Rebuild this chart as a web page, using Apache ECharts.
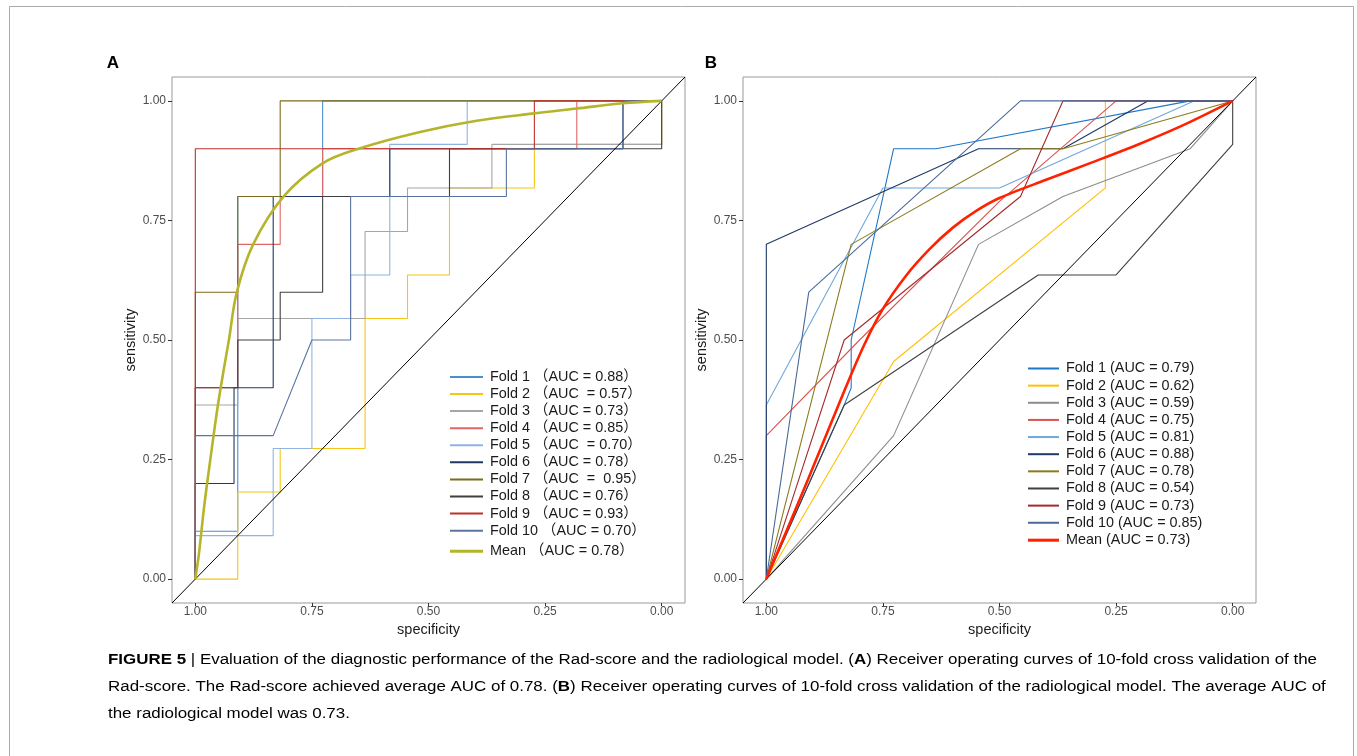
<!DOCTYPE html>
<html>
<head>
<meta charset="utf-8">
<script src="https://cdn.jsdelivr.net/npm/echarts@6/dist/echarts.min.js"></script>
<style>
  html, body { margin: 0; padding: 0; background: #fff; }
  #chart { width: 1357px; height: 756px; }
</style>
</head>
<body>
<div id="chart"></div>
<script>
// all curves are [specificity, sensitivity]
const ticks = [0, 0.25, 0.5, 0.75, 1];

const namesA = [
  'Fold 1 （AUC = 0.88）', 'Fold 2 （AUC  = 0.57）', 'Fold 3 （AUC = 0.73）',
  'Fold 4 （AUC = 0.85）', 'Fold 5 （AUC  = 0.70）', 'Fold 6 （AUC = 0.78）',
  'Fold 7 （AUC  =  0.95）', 'Fold 8 （AUC = 0.76）', 'Fold 9 （AUC = 0.93）',
  'Fold 10 （AUC = 0.70）', 'Mean （AUC = 0.78）'
];
const namesB = [
  'Fold 1 (AUC = 0.79)', 'Fold 2 (AUC = 0.62)', 'Fold 3 (AUC = 0.59)',
  'Fold 4 (AUC = 0.75)', 'Fold 5 (AUC = 0.81)', 'Fold 6 (AUC = 0.88)',
  'Fold 7 (AUC = 0.78)', 'Fold 8 (AUC = 0.54)', 'Fold 9 (AUC = 0.73)',
  'Fold 10 (AUC = 0.85)', 'Mean (AUC = 0.73)'
];

// panel A - Rad-score
const foldA1 = [[1,0],[1,0.1],[0.909,0.1],[0.909,0.8],[0.727,0.8],[0.727,1],[0,1]];
const foldA2 = [[1,0],[0.909,0],[0.909,0.182],[0.818,0.182],[0.818,0.273],[0.636,0.273],[0.636,0.545],
  [0.545,0.545],[0.545,0.636],[0.455,0.636],[0.455,0.818],[0.273,0.818],[0.273,0.909],[0,0.909],[0,1]];
const foldA3 = [[1,0],[1,0.364],[0.909,0.364],[0.909,0.545],[0.636,0.545],[0.636,0.727],[0.545,0.727],
  [0.545,0.818],[0.364,0.818],[0.364,0.909],[0,0.909],[0,1]];
const foldA4 = [[1,0],[1,0.4],[0.909,0.4],[0.909,0.7],[0.818,0.7],[0.818,0.8],[0.727,0.8],[0.727,0.9],
  [0.182,0.9],[0.182,1],[0,1]];
const foldA5 = [[1,0],[1,0.091],[0.833,0.091],[0.833,0.273],[0.75,0.273],[0.75,0.545],[0.667,0.545],
  [0.667,0.636],[0.583,0.636],[0.583,0.909],[0.417,0.909],[0.417,1],[0,1]];
const foldA6 = [[1,0],[1,0.2],[0.917,0.2],[0.917,0.4],[0.833,0.4],[0.833,0.8],[0.583,0.8],[0.583,0.9],
  [0.083,0.9],[0.083,1],[0,1]];
const foldA7 = [[1,0],[1,0.6],[0.909,0.6],[0.909,0.8],[0.818,0.8],[0.818,1],[0,1]];
const foldA8 = [[1,0],[1,0.4],[0.909,0.4],[0.909,0.5],[0.818,0.5],[0.818,0.6],[0.727,0.6],[0.727,0.8],
  [0.455,0.8],[0.455,0.9],[0,0.9],[0,1]];
const foldA9 = [[1,0],[1,0.9],[0.273,0.9],[0.273,1],[0,1]];
const foldA10 = [[1,0],[1,0.3],[0.833,0.3],[0.75,0.5],[0.667,0.5],[0.667,0.8],[0.333,0.8],[0.333,0.9],
  [0.083,0.9],[0.083,1],[0,1]];
const meanA = [[1,0],[0.992,0.055],[0.981,0.152],[0.967,0.256],[0.952,0.361],[0.938,0.444],[0.928,0.5],
  [0.911,0.6],[0.876,0.7],[0.811,0.8],[0.728,0.869],[0.65,0.9],[0.518,0.935],[0.4,0.958],
  [0.273,0.974],[0.182,0.984],[0.083,0.995],[0,1]];

// panel B - radiological model
const foldB1 = [[1,0],[0.833,0.364],[0.818,0.4],[0.818,0.5],[0.727,0.9],[0.636,0.9],[0.091,1],[0,1]];
const foldB2 = [[1,0],[0.727,0.455],[0.273,0.818],[0.273,1],[0,1]];
const foldB3 = [[1,0],[0.727,0.3],[0.545,0.7],[0.364,0.8],[0.091,0.9],[0,1]];
const foldB4 = [[1,0],[1,0.3],[0.8,0.5],[0.5,0.79],[0.25,1],[0,1]];
const foldB5 = [[1,0],[1,0.364],[0.75,0.818],[0.5,0.818],[0.083,1],[0,1]];
const foldB6 = [[1,0],[1,0.7],[0.545,0.9],[0.364,0.9],[0.182,1],[0,1]];
const foldB7 = [[1,0],[0.818,0.7],[0.455,0.9],[0.364,0.9],[0,1]];
const foldB8 = [[1,0],[0.833,0.364],[0.417,0.636],[0.25,0.636],[0,0.909],[0,1]];
const foldB9 = [[1,0],[0.833,0.5],[0.455,0.8],[0.364,1],[0,1]];
const foldB10 = [[1,0],[0.909,0.6],[0.455,1],[0,1]];
const meanB = [[1,0],[0.91,0.21],[0.83,0.4],[0.79,0.49],[0.75,0.565],[0.7,0.635],[0.65,0.69],
  [0.6,0.735],[0.55,0.77],[0.5,0.797],[0.4,0.835],[0.3,0.872],[0.2,0.91],[0.1,0.952],[0,1]];

const foldsA = [foldA1, foldA2, foldA3, foldA4, foldA5, foldA6, foldA7, foldA8, foldA9, foldA10];
const foldsB = [foldB1, foldB2, foldB3, foldB4, foldB5, foldB6, foldB7, foldB8, foldB9, foldB10];

const colorsA = ['#4a8fd0', '#f5c518', '#a6a6a6', '#e06666', '#8fb4e3',
                 '#1f3864', '#7f6a1a', '#404040', '#c0302b', '#5a74a0'];
const colorsB = ['#1f77c8', '#ffc000', '#8c8c8c', '#d9534f', '#6fa8dc',
                 '#1f3864', '#8b7b1e', '#404040', '#a52a2a', '#4a6a9a'];

const FONT = '"Liberation Sans", Arial, "Noto Sans CJK SC", sans-serif';

// caption, split in lines as in the figure; second item = bold
const captionLines = [
  [['FIGURE 5', 1], [' | Evaluation of the diagnostic performance of the Rad-score and the radiological model. (', 0],
   ['A', 1], [') Receiver operating curves of 10-fold cross validation of the', 0]],
  [['Rad-score. The Rad-score achieved average AUC of 0.78. (', 0], ['B', 1],
   [') Receiver operating curves of 10-fold cross validation of the radiological model. The average AUC of', 0]],
  [['the radiological model was 0.73.', 0]]
];

const chart = echarts.init(document.getElementById('chart'), null, { renderer: 'canvas' });

function xAxisOf(i) {
  return {
    gridIndex: i, type: 'value', min: -0.05, max: 1.05, inverse: true,
    name: 'specificity', nameLocation: 'middle', nameGap: 19,
    nameTextStyle: { fontSize: 14.5, color: '#1a1a1a', fontFamily: FONT },
    axisLine: { show: false, onZero: false },
    splitLine: { show: false },
    axisTick: { show: true, length: 3, customValues: ticks, lineStyle: { color: '#333', width: 1 } },
    axisLabel: { customValues: ticks, formatter: v => v.toFixed(2), fontSize: 12,
                 color: '#4d4d4d', margin: 3, fontFamily: FONT }
  };
}
function yAxisOf(i) {
  return {
    gridIndex: i, type: 'value', min: -0.05, max: 1.05,
    name: 'sensitivity', nameLocation: 'middle', nameGap: 34,
    nameTextStyle: { fontSize: 14.5, color: '#1a1a1a', fontFamily: FONT },
    axisLine: { show: false, onZero: false },
    splitLine: { show: false },
    axisTick: { show: true, length: 4, customValues: ticks, lineStyle: { color: '#333', width: 1 } },
    axisLabel: { customValues: ticks, formatter: v => v.toFixed(2), fontSize: 12,
                 color: '#4d4d4d', margin: 6, fontFamily: FONT }
  };
}
function curve(name, data, color, width, idx, smooth) {
  return {
    type: 'line', name: name, data: data, xAxisIndex: idx, yAxisIndex: idx,
    symbol: 'none', smooth: smooth || false, silent: true,
    lineStyle: { color: color, width: width },
    itemStyle: { color: color }
  };
}
function diagonal(idx) {
  return {
    type: 'line', data: [[1.05, -0.05], [-0.05, 1.05]], xAxisIndex: idx, yAxisIndex: idx,
    symbol: 'none', silent: true, lineStyle: { color: '#000', width: 1 }
  };
}
function legendOf(names, left, top, w, h, gap) {
  return {
    data: names, orient: 'vertical', left: left, top: top, padding: 0,
    itemWidth: w, itemHeight: h, itemGap: gap, icon: 'rect', selectedMode: false,
    textStyle: { fontSize: 14.4, color: '#1a1a1a', fontFamily: FONT, padding: [0, 0, 0, 2] }
  };
}

const series = [];
foldsA.forEach((d, i) => series.push(curve(namesA[i], d, colorsA[i], 1.1, 0)));
series.push(diagonal(0));
series.push(curve(namesA[10], meanA, '#b5b52c', 2.6, 0, 0.35));
foldsB.forEach((d, i) => series.push(curve(namesB[i], d, colorsB[i], 1.1, 1)));
series.push(diagonal(1));
series.push(curve(namesB[10], meanB, '#ff2200', 2.6, 1, 0.3));

// caption layout: measure with the same font and squeeze to the figure's line width
const CAP_SIZE = 15.5;
const ctx = document.createElement('canvas').getContext('2d');
function lineWidth(parts) {
  let w = 0;
  parts.forEach(p => {
    ctx.font = (p[1] ? 'bold ' : '') + CAP_SIZE + 'px "Liberation Sans"';
    w += ctx.measureText(p[0]).width;
  });
  return w;
}
const capScale = 1209 / lineWidth(captionLines[0]);
const capTexts = captionLines.map((parts, i) => ({
  type: 'text', x: 0, y: 660 + i * 27,
  style: {
    text: parts.map(p => p[1] ? '{b|' + p[0] + '}' : '{n|' + p[0] + '}').join(''),
    rich: {
      n: { fontSize: CAP_SIZE, fontFamily: FONT, color: '#333' },
      b: { fontSize: CAP_SIZE, fontFamily: FONT, color: '#1a1a1a', fontWeight: 'bold' }
    },
    verticalAlign: 'middle', align: 'left'
  }
}));

chart.setOption({
  animation: false,
  backgroundColor: '#fff',
  grid: [
    { left: 172, top: 77, width: 513, height: 526, show: true, borderColor: '#999', borderWidth: 1 },
    { left: 743, top: 77, width: 513, height: 526, show: true, borderColor: '#999', borderWidth: 1 }
  ],
  xAxis: [xAxisOf(0), xAxisOf(1)],
  yAxis: [yAxisOf(0), yAxisOf(1)],
  legend: [
    legendOf(namesA.slice(0, 10), 450, 369.7, 33, 2, 2.7),
    legendOf([namesA[10]], 450, 544, 33, 3, 3),
    legendOf(namesB.slice(0, 10), 1028, 361.3, 31, 2, 2.75),
    legendOf([namesB[10]], 1028, 533, 31, 3, 3)
  ],
  series: series,
  graphic: [
    { type: 'rect', shape: { x: 9.5, y: 6.5, width: 1344, height: 800 },
      style: { fill: 'none', stroke: '#aaa', lineWidth: 1 }, silent: true },
    { type: 'text', x: 113, y: 63,
      style: { text: 'A', fontSize: 17, fontWeight: 'bold', fontFamily: FONT, fill: '#000',
               align: 'center', verticalAlign: 'middle' } },
    { type: 'text', x: 711, y: 63,
      style: { text: 'B', fontSize: 17, fontWeight: 'bold', fontFamily: FONT, fill: '#000',
               align: 'center', verticalAlign: 'middle' } },
    { type: 'group', x: 108, scaleX: capScale, children: capTexts }
  ]
});
</script>
</body>
</html>
